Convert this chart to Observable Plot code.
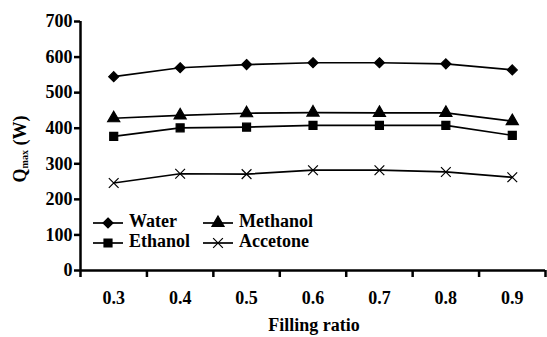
<!DOCTYPE html>
<html>
<head>
<meta charset="utf-8">
<script src="https://cdn.jsdelivr.net/npm/d3@7"></script>
<script src="https://cdn.jsdelivr.net/npm/@observablehq/plot@0.6"></script>
<style>
  html, body { margin: 0; padding: 0; background: white; }
  #chart { position: relative; width: 547px; height: 337px; font-family: 'Liberation Serif', serif; }
  #chart svg, #chart svg text, #chart svg tspan { font-family: 'Liberation Serif', serif !important; }
</style>
</head>
<body>
<div id="chart"></div>
<script>
const fillRatio = [0.3, 0.4, 0.5, 0.6, 0.7, 0.8, 0.9];
const xBoundaries = [0.25, 0.35, 0.45, 0.55, 0.65, 0.75, 0.85, 0.95];
const yTicks = [0, 100, 200, 300, 400, 500, 600, 700];
const series = ["Water", "Ethanol", "Methanol", "Accetone"];
const water    = [545, 570, 579, 584, 584, 581, 564];
const ethanol  = [377, 401, 403, 408, 408, 408, 380];
const methanol = [428, 436, 442, 444, 443, 443, 420];
const acetone  = [246, 272, 271, 282, 282, 277, 262];
const symbols = ["diamond2", "square", "triangle", "times"];

const valuesBySeries = [water, ethanol, methanol, acetone];
const data = [];
series.forEach((s, i) => fillRatio.forEach((x, j) => data.push({series: s, x, y: valuesBySeries[i][j]})));

const font = "Liberation Serif";
const plot = Plot.plot({
  width: 547, height: 337,
  marginLeft: 80, marginRight: 2, marginTop: 21, marginBottom: 67,
  style: {fontFamily: font, fontSize: "18px", fontWeight: "bold", color: "black", background: "white"},
  x: {domain: [xBoundaries[0], xBoundaries[xBoundaries.length - 1]]},
  y: {domain: [yTicks[0], yTicks[yTicks.length - 1]]},
  symbol: {domain: series, range: symbols},
  marks: [
    Plot.axisY({ticks: yTicks, tickSize: 6, tickPadding: 2, label: null, strokeWidth: 2.5, fontFamily: font}),
    Plot.axisX({ticks: xBoundaries, tickSize: 7, tickFormat: () => "", label: null, strokeWidth: 2.5}),
    Plot.axisX({ticks: fillRatio, tickSize: 0, tickPadding: 21, tickFormat: d => d.toFixed(1), label: null, fontFamily: font}),
    Plot.ruleY([yTicks[0]], {strokeWidth: 2.5}),
    Plot.ruleX([xBoundaries[0]], {strokeWidth: 2.5}),
    Plot.line(data, {x: "x", y: "y", z: "series", stroke: "black", strokeWidth: 1.7}),
    Plot.dot(data, {x: "x", y: "y", symbol: "series", fill: "black", stroke: "black", strokeWidth: 1.2, r: 4.5})
  ]
});
document.getElementById("chart").appendChild(plot);

const svg = d3.select(plot);
// Y axis title with subscript
const yt = svg.append("text")
  .attr("transform", "translate(26,149) rotate(-90)")
  .attr("text-anchor", "middle")
  .attr("font-family", font).attr("font-weight", "bold")
  .attr("font-size", 18).attr("fill", "black");
yt.append("tspan").text("Q");
yt.append("tspan").attr("font-size", 10).attr("dy", 2).text("max");
yt.append("tspan").attr("dy", -2).text(" (W)");
// X axis title
svg.append("text")
  .attr("x", 314).attr("y", 331)
  .attr("text-anchor", "middle")
  .attr("font-family", font).attr("font-weight", "bold")
  .attr("font-size", 18).attr("fill", "black")
  .text("Filling ratio");

// Legend
const legendPos = [[93, 223], [93, 243], [203, 223], [203, 243]];
const lg = svg.append("g");
series.forEach((s, i) => {
  const [lx, ly] = legendPos[i];
  const g = lg.append("g").attr("transform", `translate(${lx},${ly})`);
  g.append("line").attr("x1", 0).attr("x2", 30).attr("stroke", "black").attr("stroke-width", 1.7);
  const sym = {diamond2: d3.symbolDiamond2, square: d3.symbolSquare, triangle: d3.symbolTriangle, times: d3.symbolTimes}[symbols[i]];
  g.append("path").attr("transform", "translate(15,0)")
    .attr("d", d3.symbol(sym, 4.5 * 4.5 * Math.PI)())
    .attr("fill", "black").attr("stroke", "black").attr("stroke-width", 1.2);
  g.append("text").attr("x", 36).attr("dy", 4).attr("text-anchor", "start")
    .attr("font-family", font).attr("font-weight", "bold")
    .attr("font-size", 18).attr("fill", "black").text(s);
});
</script>
</body>
</html>
